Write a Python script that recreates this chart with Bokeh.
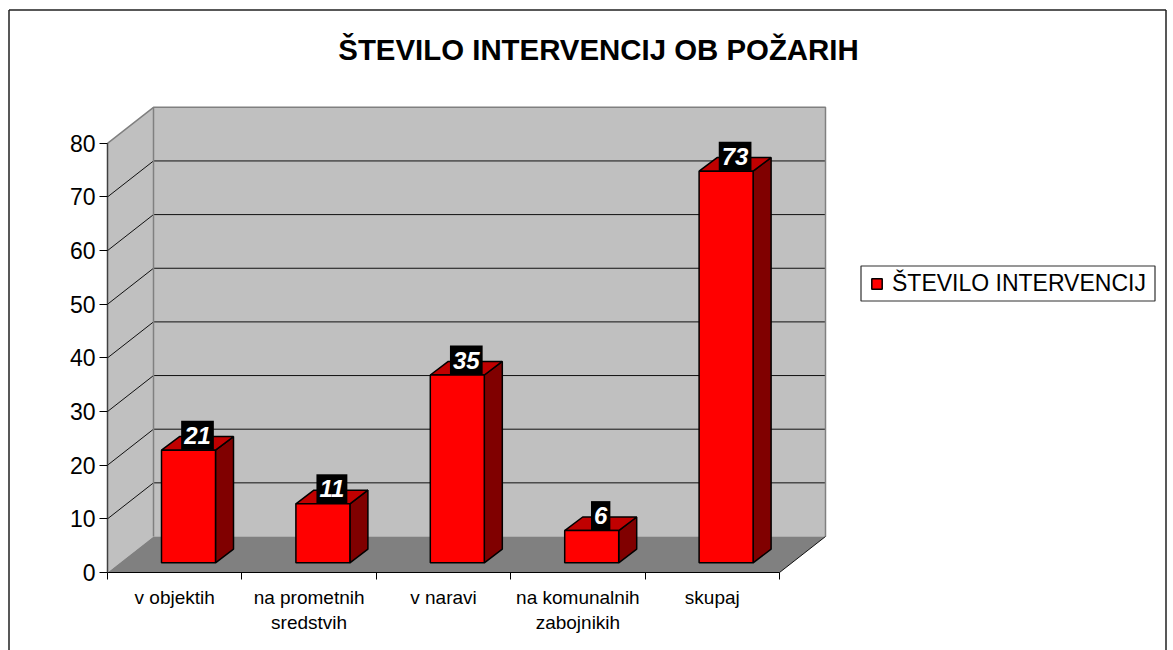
from bokeh.plotting import figure
from bokeh.models import FixedTicker, Legend, LegendItem, Range1d
from bokeh.core.properties import value
from bokeh.embed import file_html
from bokeh.resources import INLINE

title_text = "ŠTEVILO INTERVENCIJ OB POŽARIH"
series_name = "ŠTEVILO INTERVENCIJ"
categories = ["v objektih", "na prometnih\nsredstvih", "v naravi", "na komunalnih\nzabojnikih", "skupaj"]
counts = [21, 11, 35, 6, 73]
y_ticks = [0, 10, 20, 30, 40, 50, 60, 70, 80]

# page-pixel layout of the projected 3D box
W, H = 1173, 650
ORG = 0
X0, Y0 = 107.0, 572.0
KX, KY = 134.4, 5.365
n = len(categories)
ymax = y_ticks[-1]

def dx(px): return px / KX
def dy(px): return px / KY
def X(px): return (px - X0) / KX
def Y(py): return (Y0 - py) / KY

p = figure(width=W, height=H, output_backend="svg", toolbar_location=None,
           x_range=Range1d(X(ORG), X(ORG + W)), y_range=Range1d(Y(ORG + H), Y(ORG)),
           min_border=0, min_border_left=0, min_border_right=0, min_border_top=0, min_border_bottom=0,
           outline_line_color=None, background_fill_color="white")
p.grid.visible = False

DX, DY = dx(46), dy(36)
WALL, FLOOR, EDGE = "#c0c0c0", "#808080", "#808080"

# chart-area border
p.segment([X(8.5), X(8.5), X(1165.5)], [Y(9.5), Y(9.5), Y(9.5)],
          [X(8.5), X(1165.5), X(1165.5)], [Y(650), Y(9.5), Y(650)],
          line_color="#202020", line_width=1.5)

# walls and floor
p.patch([0, DX, DX, 0], [0, DY, ymax + DY, ymax], fill_color=WALL, line_color=None)
p.patch([DX, n + DX, n + DX, DX], [DY, DY, ymax + DY, ymax + DY], fill_color=WALL, line_color=None)

grid = y_ticks[1:-1]
p.segment([0] * len(grid), grid, [DX] * len(grid), [g + DY for g in grid], line_color="#101010", line_width=1)
p.segment([DX] * len(grid), [g + DY for g in grid], [n + DX] * len(grid), [g + DY for g in grid],
          line_color="#101010", line_width=1)
p.line([0, DX, n + DX, n + DX], [ymax, ymax + DY, ymax + DY, DY], line_color=EDGE, line_width=1.5)
p.line([DX, DX], [DY, ymax + DY], line_color=EDGE, line_width=1.5)
p.patch([0, n, n + DX, DX], [0, 0, DY, DY], fill_color=FLOOR, line_color=None)
p.line([n, n + DX], [0, DY], line_color="#101010", line_width=1)

# bars
bar_l = [i + X(161) for i in range(n)]
bar_w = dx(54)
gap_y = dy(9.7)
SX, SY = dx(18), dy(13.6)
bar_r = [b + bar_w for b in bar_l]
side_x = [[r, r + SX, r + SX, r] for r in bar_r]
side_y = [[gap_y, gap_y + SY, gap_y + SY + v, gap_y + v] for v in counts]
top_x = [[l, l + SX, r + SX, r] for l, r in zip(bar_l, bar_r)]
top_y = [[gap_y + v, gap_y + SY + v, gap_y + SY + v, gap_y + v] for v in counts]
p.patches(side_x, side_y, fill_color="#800000", line_color="black", line_width=1.5)
p.patches(top_x, top_y, fill_color="#c00000", line_color="black", line_width=1.5)
front = p.quad(left=bar_l, right=bar_r, bottom=[gap_y] * n, top=[gap_y + v for v in counts],
               fill_color="#ff0000", line_color="black", line_width=1.5)

# data labels
p.text(x=[b + bar_w / 2 + dx(9) for b in bar_l], y=[gap_y + v + dy(15) for v in counts],
       text=[str(v) for v in counts], text_color="white", text_align="center", text_baseline="middle",
       text_font=value("Liberation Sans"), text_font_style="bold italic", text_font_size="24px",
       background_fill_color="black", padding=(3, 6))

# title
p.text(x=[X(598)], y=[Y(49)], text=[title_text], text_align="center", text_baseline="middle",
       text_color="black", text_font=value("Liberation Sans"), text_font_style="bold", text_font_size="29.4px")

# axes
xax = p.xaxis[0]
xax.fixed_location = 0
xax.bounds = (0, n)
xax.ticker = FixedTicker(ticks=[i + 0.5 for i in range(n)], minor_ticks=list(range(n + 1)))
xax.major_label_overrides = {i + 0.5: c for i, c in enumerate(categories)}
xax.major_tick_line_color = None
xax.major_tick_in = 0
xax.major_tick_out = 0
xax.minor_tick_in = 0
xax.minor_tick_out = 7
xax.minor_tick_line_color = "black"
xax.axis_line_color = "black"
xax.axis_line_width = 1.2
xax.major_label_standoff = 7
xax.major_label_text_font = "Liberation Sans"
xax.major_label_text_font_size = "19px"
xax.major_label_text_color = "black"

yax = p.yaxis[0]
yax.fixed_location = 0
yax.bounds = (0, ymax)
yax.ticker = FixedTicker(ticks=y_ticks, minor_ticks=[])
yax.major_tick_in = 0
yax.major_tick_out = 8
yax.major_tick_line_color = "black"
yax.axis_line_color = "#404040"
yax.axis_line_width = 1.5
yax.major_label_standoff = 4
yax.major_label_text_font = "Liberation Sans"
yax.major_label_text_font_size = "23px"
yax.major_label_text_color = "black"

# legend: box drawn separately so that its insets can match
p.quad(left=[X(860.5)], right=[X(1154.5)], bottom=[Y(300.5)], top=[Y(265.5)],
       fill_color="white", line_color="#303030", line_width=1.2)
legend = Legend(items=[LegendItem(label=series_name, renderers=[front])], location=(870, 353),
                orientation="vertical", glyph_width=13, glyph_height=13, label_text_font="Liberation Sans",
                label_text_font_size="23px", label_text_color="black", border_line_color=None,
                padding=0, margin=0, spacing=0, label_standoff=9,
                background_fill_alpha=0)
p.add_layout(legend)

open("out.html", "w").write(file_html(p, INLINE))
